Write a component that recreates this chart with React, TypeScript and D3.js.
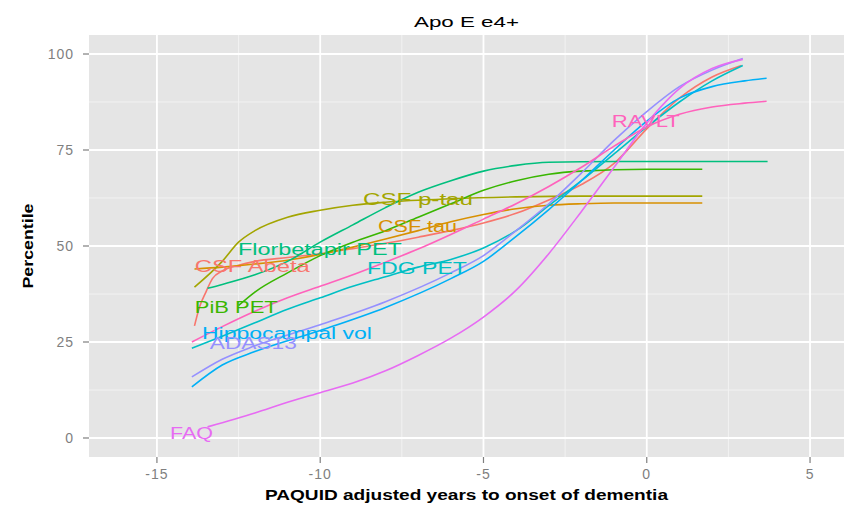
import React from 'react';
import * as d3 from 'd3';

// ---- data ----
const titleText = 'Apo E e4+';
const xTitle = 'PAQUID adjusted years to onset of dementia';
const yTitle = 'Percentile';

const xTicks = [-15, -10, -5, 0, 5];
const yTicks = [0, 25, 50, 75, 100];
const xMinor = [-12.5, -7.5, -2.5, 2.5];
const yMinor = [12.5, 37.5, 62.5, 87.5];

const seriesNames = [
  'CSF Abeta', 'CSF tau', 'CSF p-tau', 'PiB PET', 'Florbetapir PET',
  'FDG PET', 'Hippocampal vol', 'ADAS13', 'FAQ', 'RAVLT',
];

const csfAbeta: [number, number][] = [
  [-13.85, 29.2], [-13.7, 34], [-13.5, 38], [-13.3, 41.5], [-13, 43.5], [-12.5, 45], [-12, 46],
  [-11, 47], [-10, 48], [-9, 49.3], [-8, 50.7], [-7, 52.3], [-6, 54], [-5, 56], [-4, 58.5],
  [-3, 62], [-2, 66], [-1, 71.5], [0, 80.5], [1, 88.5], [2, 94], [2.9, 97],
];
const csfTau: [number, number][] = [
  [-13.85, 44], [-13, 44.5], [-12, 45.3], [-11, 46.3], [-10, 47.8], [-9, 49.7], [-8, 51.8],
  [-7, 54], [-6, 56.3], [-5, 58.2], [-4, 59.7], [-3, 60.6], [-2, 61], [-1, 61.2], [1.7, 61.2],
];
const csfPtau: [number, number][] = [
  [-13.85, 39.3], [-13, 46], [-12.5, 51], [-12, 54], [-11, 57.5], [-10, 59.3], [-9, 60.6],
  [-8, 61.4], [-6, 62.3], [-4, 62.8], [-2, 63], [1.7, 63],
];
const pibPet: [number, number][] = [
  [-12.5, 34.5], [-12, 38], [-11, 43], [-10, 47.5], [-9, 51], [-8, 54], [-7, 57.5], [-6, 61],
  [-5, 64.5], [-4, 67], [-3, 68.7], [-2, 69.5], [0, 70], [1.7, 70],
];
const florbetapirPet: [number, number][] = [
  [-13.45, 39], [-13, 40], [-12, 42.5], [-11, 46], [-10, 51], [-9, 55.5], [-8, 60], [-7, 64],
  [-6, 67], [-5, 69.5], [-4, 71], [-3, 71.8], [-1, 72], [3.7, 72],
];
const fdgPet: [number, number][] = [
  [-13.93, 23.4], [-13, 26.5], [-12, 30], [-11, 33.5], [-10, 36.5], [-9, 39.5], [-8, 42],
  [-7, 44.5], [-6, 46.5], [-5, 49.5], [-4, 54], [-3, 60.5], [-2, 67], [-1, 74], [0, 81],
  [1, 87.5], [2, 93], [2.94, 97],
];
const hippocampalVol: [number, number][] = [
  [-13.93, 13.3], [-13, 19], [-12, 22.5], [-10, 28], [-8, 34], [-6, 41.5], [-5, 46], [-4, 52.5],
  [-3, 59.5], [-2, 67], [-1, 75], [0, 82.5], [1, 88.5], [2, 91.5], [3, 93], [3.67, 93.7],
];
const adas13: [number, number][] = [
  [-13.93, 15.9], [-13, 20.5], [-12, 24], [-10, 29.5], [-8, 35.5], [-6, 43], [-5, 47.5], [-4, 54],
  [-3, 61], [-2, 69], [-1, 77.5], [0, 85], [1, 91.5], [2, 95.8], [2.94, 98.8],
];
const faq: [number, number][] = [
  [-13.45, 2.9], [-12, 6.5], [-11, 9.3], [-10, 11.8], [-9, 14.3], [-8, 17.5], [-7, 21.5], [-6, 26],
  [-5, 31.5], [-4, 38.5], [-3, 48], [-2, 59], [-1, 70.5], [0, 82], [1, 91], [2, 96.2], [2.94, 98.6],
];
const ravlt: [number, number][] = [
  [-13.93, 25], [-13, 29], [-12, 33], [-11, 36.5], [-10, 39.5], [-9, 42.5], [-8, 45.8], [-7, 49.2],
  [-6, 53], [-5, 57], [-4, 61], [-3, 65.5], [-2, 70.5], [-1, 76], [0, 81], [1, 84.3], [2, 86.2],
  [3, 87.2], [3.67, 87.7],
];
const seriesValues = [
  csfAbeta, csfTau, csfPtau, pibPet, florbetapirPet, fdgPet, hippocampalVol, adas13, faq, ravlt,
];

// label anchors (data units: left x, centre y)
const labelX = [-13.84, -8.23, -8.69, -13.84, -12.52, -8.57, -13.62, -13.38, -14.6, -1.07];
const labelY = [44.8, 55.2, 62.2, 34.1, 49.2, 44.3, 27.3, 24.7, 1.3, 82.6];

// ---- styles ----
const palette = [
  '#F8766D', '#D89000', '#A3A500', '#39B600', '#00BF7D',
  '#00BFC4', '#00B0F6', '#9590FF', '#E76BF3', '#FF62BC',
];
const labelWidths = [115, 79, 110, 83, 164, 100, 170, 87, 43, 68];

const W = 846;
const H = 507;
const panel = { left: 89, right: 844, top: 35, bottom: 457 };
const font = 'Liberation Sans, Arial, sans-serif';

export default function App() {
  const x = d3.scaleLinear().domain([-17.08, 6.04]).range([panel.left, panel.right]);
  const y = d3.scaleLinear().domain([-4.95, 104.95]).range([panel.bottom, panel.top]);
  const line = d3
    .line<[number, number]>()
    .x((d) => x(d[0]))
    .y((d) => y(d[1]))
    .curve(d3.curveMonotoneX);

  return (
    <svg
      width={W}
      height={H}
      style={{ position: 'absolute', left: 0, top: 0, background: '#fff' }}
      fontFamily={font}
    >
      <rect x={0} y={0} width={W} height={H} fill="#ffffff" />
      <rect
        x={panel.left}
        y={panel.top}
        width={panel.right - panel.left}
        height={panel.bottom - panel.top}
        fill="#E5E5E5"
      />
      {xMinor.map((v) => (
        <line key={'xm' + v} x1={x(v)} x2={x(v)} y1={panel.top} y2={panel.bottom} stroke="#F2F2F2" strokeWidth={1} />
      ))}
      {yMinor.map((v) => (
        <line key={'ym' + v} x1={panel.left} x2={panel.right} y1={y(v)} y2={y(v)} stroke="#F2F2F2" strokeWidth={1} />
      ))}
      {xTicks.map((v) => (
        <line key={'xg' + v} x1={x(v)} x2={x(v)} y1={panel.top} y2={panel.bottom} stroke="#FFFFFF" strokeWidth={1.8} />
      ))}
      {yTicks.map((v) => (
        <line key={'yg' + v} x1={panel.left} x2={panel.right} y1={y(v)} y2={y(v)} stroke="#FFFFFF" strokeWidth={1.8} />
      ))}

      {seriesValues.map((s, i) => (
        <path key={'s' + i} d={line(s) || ''} fill="none" stroke={palette[i]} strokeWidth={1.6} />
      ))}

      {seriesNames.map((name, i) => (
        <text
          key={'l' + i}
          x={x(labelX[i])}
          y={y(labelY[i])}
          dy="0.36em"
          fill={palette[i]}
          fontSize={16}
          textLength={labelWidths[i]}
          lengthAdjust="spacingAndGlyphs"
        >
          {name}
        </text>
      ))}

      {/* axes */}
      {xTicks.map((v) => (
        <g key={'xt' + v}>
          <line x1={x(v)} x2={x(v)} y1={panel.bottom} y2={panel.bottom + 6} stroke="#7F7F7F" strokeWidth={1.2} />
          <text x={x(v)} y={panel.bottom + 22} textAnchor="middle" fill="#7F7F7F" fontSize={14} letterSpacing={1}>
            {v === 0 ? '0' : v < 0 ? '-' + Math.abs(v) : String(v)}
          </text>
        </g>
      ))}
      {yTicks.map((v) => (
        <g key={'yt' + v}>
          <line x1={panel.left - 6} x2={panel.left} y1={y(v)} y2={y(v)} stroke="#7F7F7F" strokeWidth={1.2} />
          <text x={panel.left - 15} y={y(v)} dy="0.36em" textAnchor="end" fill="#7F7F7F" fontSize={14} letterSpacing={1}>
            {v}
          </text>
        </g>
      ))}

      <text
        x={(panel.left + panel.right) / 2}
        y={27}
        textAnchor="middle"
        fontSize={15}
        fill="#000"
        textLength={105}
        lengthAdjust="spacingAndGlyphs"
      >
        {titleText}
      </text>
      <text
        x={(panel.left + panel.right) / 2}
        y={500}
        textAnchor="middle"
        fontSize={14}
        fontWeight="bold"
        fill="#000"
        textLength={403}
        lengthAdjust="spacingAndGlyphs"
      >
        {xTitle}
      </text>
      <text
        transform={`translate(33, ${(panel.top + panel.bottom) / 2}) rotate(-90)`}
        textAnchor="middle"
        fontSize={14}
        fontWeight="bold"
        fill="#000"
        textLength={85}
        lengthAdjust="spacingAndGlyphs"
      >
        {yTitle}
      </text>
    </svg>
  );
}
